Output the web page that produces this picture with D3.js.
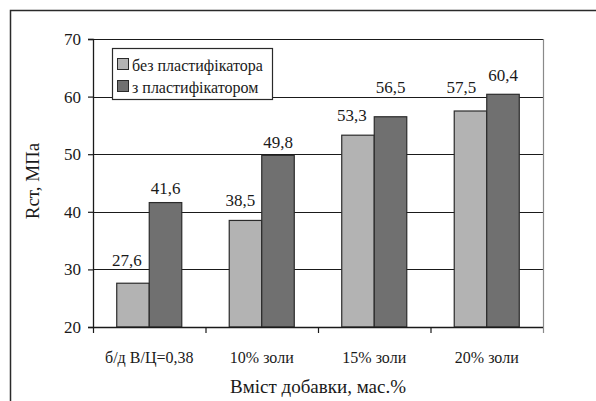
<!DOCTYPE html>
<html>
<head>
<meta charset="utf-8">
<script src="https://cdn.jsdelivr.net/npm/d3@7"></script>
</head>
<body style="margin:0">
<svg id="chart" width="596" height="401"></svg>
<script>
// Compressive strength by additive content
const categories = ["б/д В/Ц=0,38", "10% золи", "15% золи", "20% золи"];
const seriesNames = ["без пластифікатора", "з пластифікатором"];
const withoutPlasticizer = [27.6, 38.5, 53.3, 57.5];
const withPlasticizer = [41.6, 49.8, 56.5, 60.4];
const yTicks = [20, 30, 40, 50, 60, 70];
const seriesColors = ["#b3b3b3", "#707070"];
// nudges [dx, dy] for the value labels, per series and category
const labelNudge = [
  [[-6, -17], [-5, -14], [-6, -14], [-9, -18]],
  [[0, -9], [0, -7], [0, -24], [0, -13]]
];

const FONT = "'Liberation Serif'";
const INK = "#1a1a1a";

const svg = d3.select("#chart");
const margin = { left: 93, top: 39, right: 53, bottom: 74 };
const W = 596, H = 401;
const plotW = W - margin.left - margin.right;
const plotH = H - margin.top - margin.bottom;

// serif text helper
function label(sel) {
  return sel.attr("font-family", FONT).style("font-family", FONT).attr("fill", INK);
}

// outer frame (runs off the right and bottom edges)
svg.append("rect")
  .attr("x", 10.5).attr("y", 10.5)
  .attr("width", 700).attr("height", 500)
  .attr("fill", "none").attr("stroke", "#2a2a2a").attr("stroke-width", 1.5);

const g = svg.append("g").attr("transform", `translate(${margin.left},${margin.top})`);

const x0 = d3.scaleBand().domain(categories).range([0, plotW]).padding(0);
const x1 = d3.scaleBand().domain([0, 1]).range([0, x0.bandwidth()])
  .paddingInner(0).paddingOuter(0.73);
const y = d3.scaleLinear().domain([20, 70]).range([plotH, 0]);

// gridlines
g.append("g").selectAll("line")
  .data(yTicks.filter(t => t > 20))
  .join("line")
  .attr("x1", 0).attr("x2", plotW)
  .attr("y1", d => Math.round(y(d)) + 0.5).attr("y2", d => Math.round(y(d)) + 0.5)
  .attr("stroke", INK).attr("stroke-width", 1);

// right edge of plot area
g.append("line")
  .attr("x1", plotW + 0.5).attr("x2", plotW + 0.5)
  .attr("y1", 0).attr("y2", plotH + 6)
  .attr("stroke", "#8a8a8a").attr("stroke-width", 1.2);

// bars
const series = [withoutPlasticizer, withPlasticizer];
series.forEach((vals, si) => {
  g.append("g").selectAll("rect")
    .data(vals)
    .join("rect")
    .attr("x", (d, i) => x0(categories[i]) + x1(si))
    .attr("y", d => y(d))
    .attr("width", x1.bandwidth())
    .attr("height", d => y(20) - y(d))
    .attr("fill", seriesColors[si])
    .attr("stroke", "#2b2b2b").attr("stroke-width", 1.2);
});

// value labels
series.forEach((vals, si) => {
  g.append("g").selectAll("text")
    .data(vals)
    .join("text")
    .attr("x", (d, i) => x0(categories[i]) + x1(si) + x1.bandwidth() / 2 + labelNudge[si][i][0])
    .attr("y", (d, i) => y(d) + labelNudge[si][i][1])
    .attr("text-anchor", "middle")
    .attr("font-size", 17)
    .call(label)
    .text(d => d3.format(".1f")(d).replace(".", ","));
});

// y axis
const yAxis = g.append("g").call(d3.axisLeft(y).tickValues(yTicks).tickSize(5).tickPadding(7));
yAxis.attr("font-family", FONT);
yAxis.select(".domain").attr("stroke", INK).attr("stroke-width", 1.3);
yAxis.selectAll(".tick line").attr("stroke", INK).attr("stroke-width", 1.2);
yAxis.selectAll("text").attr("font-size", 17).call(label);

// x axis with ticks between categories
const xAxisG = g.append("g").attr("transform", `translate(0,${plotH})`);
xAxisG.append("line")
  .attr("x1", 0).attr("x2", plotW).attr("y1", 0.5).attr("y2", 0.5)
  .attr("stroke", INK).attr("stroke-width", 1.3);
const boundaries = categories.map(c => x0(c));
xAxisG.selectAll("line.sep")
  .data(boundaries)
  .join("line").attr("class", "sep")
  .attr("x1", d => d + 0.5).attr("x2", d => d + 0.5)
  .attr("y1", 0).attr("y2", 6)
  .attr("stroke", INK).attr("stroke-width", 1.2);
xAxisG.selectAll("text.cat")
  .data(categories)
  .join("text").attr("class", "cat")
  .attr("x", d => x0(d) + x0.bandwidth() / 2)
  .attr("y", 36)
  .attr("text-anchor", "middle")
  .attr("font-size", 16)
  .call(label)
  .text(d => d);

// axis titles
svg.append("text")
  .attr("x", margin.left + plotW / 2).attr("y", 393)
  .attr("text-anchor", "middle").attr("font-size", 19)
  .call(label)
  .text("Вміст добавки, мас.%");
svg.append("text")
  .attr("transform", `translate(39,181) rotate(-90)`)
  .attr("text-anchor", "middle").attr("font-size", 19)
  .call(label)
  .text("Rст, МПа");

// legend: box sized from the measured entry text
const lg = svg.append("g").attr("transform", "translate(112,48)");
const box = lg.append("rect").attr("x", 0.5).attr("y", 0.5).attr("height", 51)
  .attr("fill", "#fff").attr("stroke", "#2a2a2a").attr("stroke-width", 1.2);
let maxText = 0;
seriesNames.forEach((name, i) => {
  const row = lg.append("g").attr("transform", `translate(0,${10 + i * 22})`);
  row.append("rect").attr("x", 5.5).attr("y", 0.5).attr("width", 11).attr("height", 11)
    .attr("fill", seriesColors[i]).attr("stroke", "#2a2a2a").attr("stroke-width", 1);
  const t = row.append("text").attr("x", 20).attr("y", 13).attr("font-size", 16)
    .call(label).text(name);
  maxText = Math.max(maxText, t.node().getComputedTextLength());
});
box.attr("width", Math.max(160, Math.ceil(20 + maxText + 4)));

// resolve every label's layout now so text is shaped with its font
svg.selectAll("text").each(function () { this.getComputedTextLength(); });
</script>
</body>
</html>
